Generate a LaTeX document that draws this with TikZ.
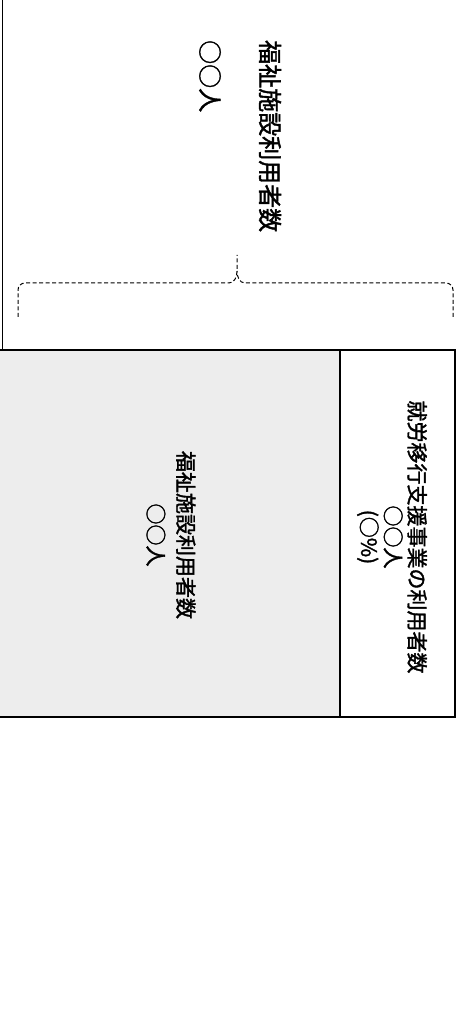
\documentclass[tikz,border=0pt]{standalone}
\usepackage{fontspec}
\newfontfamily\jpfont[FakeBold=1.6]{Noto Sans CJK JP}
\usepackage{tikz}
\usetikzlibrary{positioning}

\begin{document}
\begin{tikzpicture}[x=1pt, y=1pt,
		vlabel/.style={rotate=-90, inner sep=0pt, align=center},
		barline/.style={line width=1.8pt},
		bracket/.style={line width=1pt, dash pattern={on 4pt off 2.5pt}}]
			% Canvas:
			\useasboundingbox (0, 0) rectangle (462, 1018);
			% Bar, split in two parts:
			\coordinate (B1) at (0, 301);
			\coordinate (B2) at (340, 668);
			\coordinate (B3) at (455, 668);
			\fill[black!7] (B1) rectangle (B2);
			\draw[barline] (0, 668) -- (B3) |- (B1);
			\draw[line width=1.4pt] (B2) -- (340, 301);
			\draw[line width=1pt] (2, 1018) -- (2, 668);
			% Dashed bracket:
			\coordinate (T) at (237, 763);
			\draw[bracket] (18, 701) -- (18, 728) to[out=90, in=180] (25, 735) -- (229, 735) to[out=0, in=-90] (237, 747) -- (T);
			\draw[bracket] (453, 701) -- (453, 728) to[out=90, in=0] (446, 735) -- (245, 735) to[out=180, in=-90] (237, 747);
			% Labels:
			\node[vlabel, anchor=west, font=\jpfont\fontsize{24}{28}\selectfont](N1) at (270, 978){福祉施設利用者数};
			\node[vlabel, anchor=west, font=\jpfont\fontsize{24}{28}\selectfont](N2) at (210, 978){○○人};
			\node[vlabel, font=\jpfont\fontsize{21}{30}\selectfont](N3) at (171, 483){福祉施設利用者数\\○○人};
			\node[vlabel, font=\jpfont\fontsize{21}{24}\selectfont](N4) at (392, 481){就労移行支援事業の利用者数\\○○人\\(○\%)};
\end{tikzpicture}
\end{document}
